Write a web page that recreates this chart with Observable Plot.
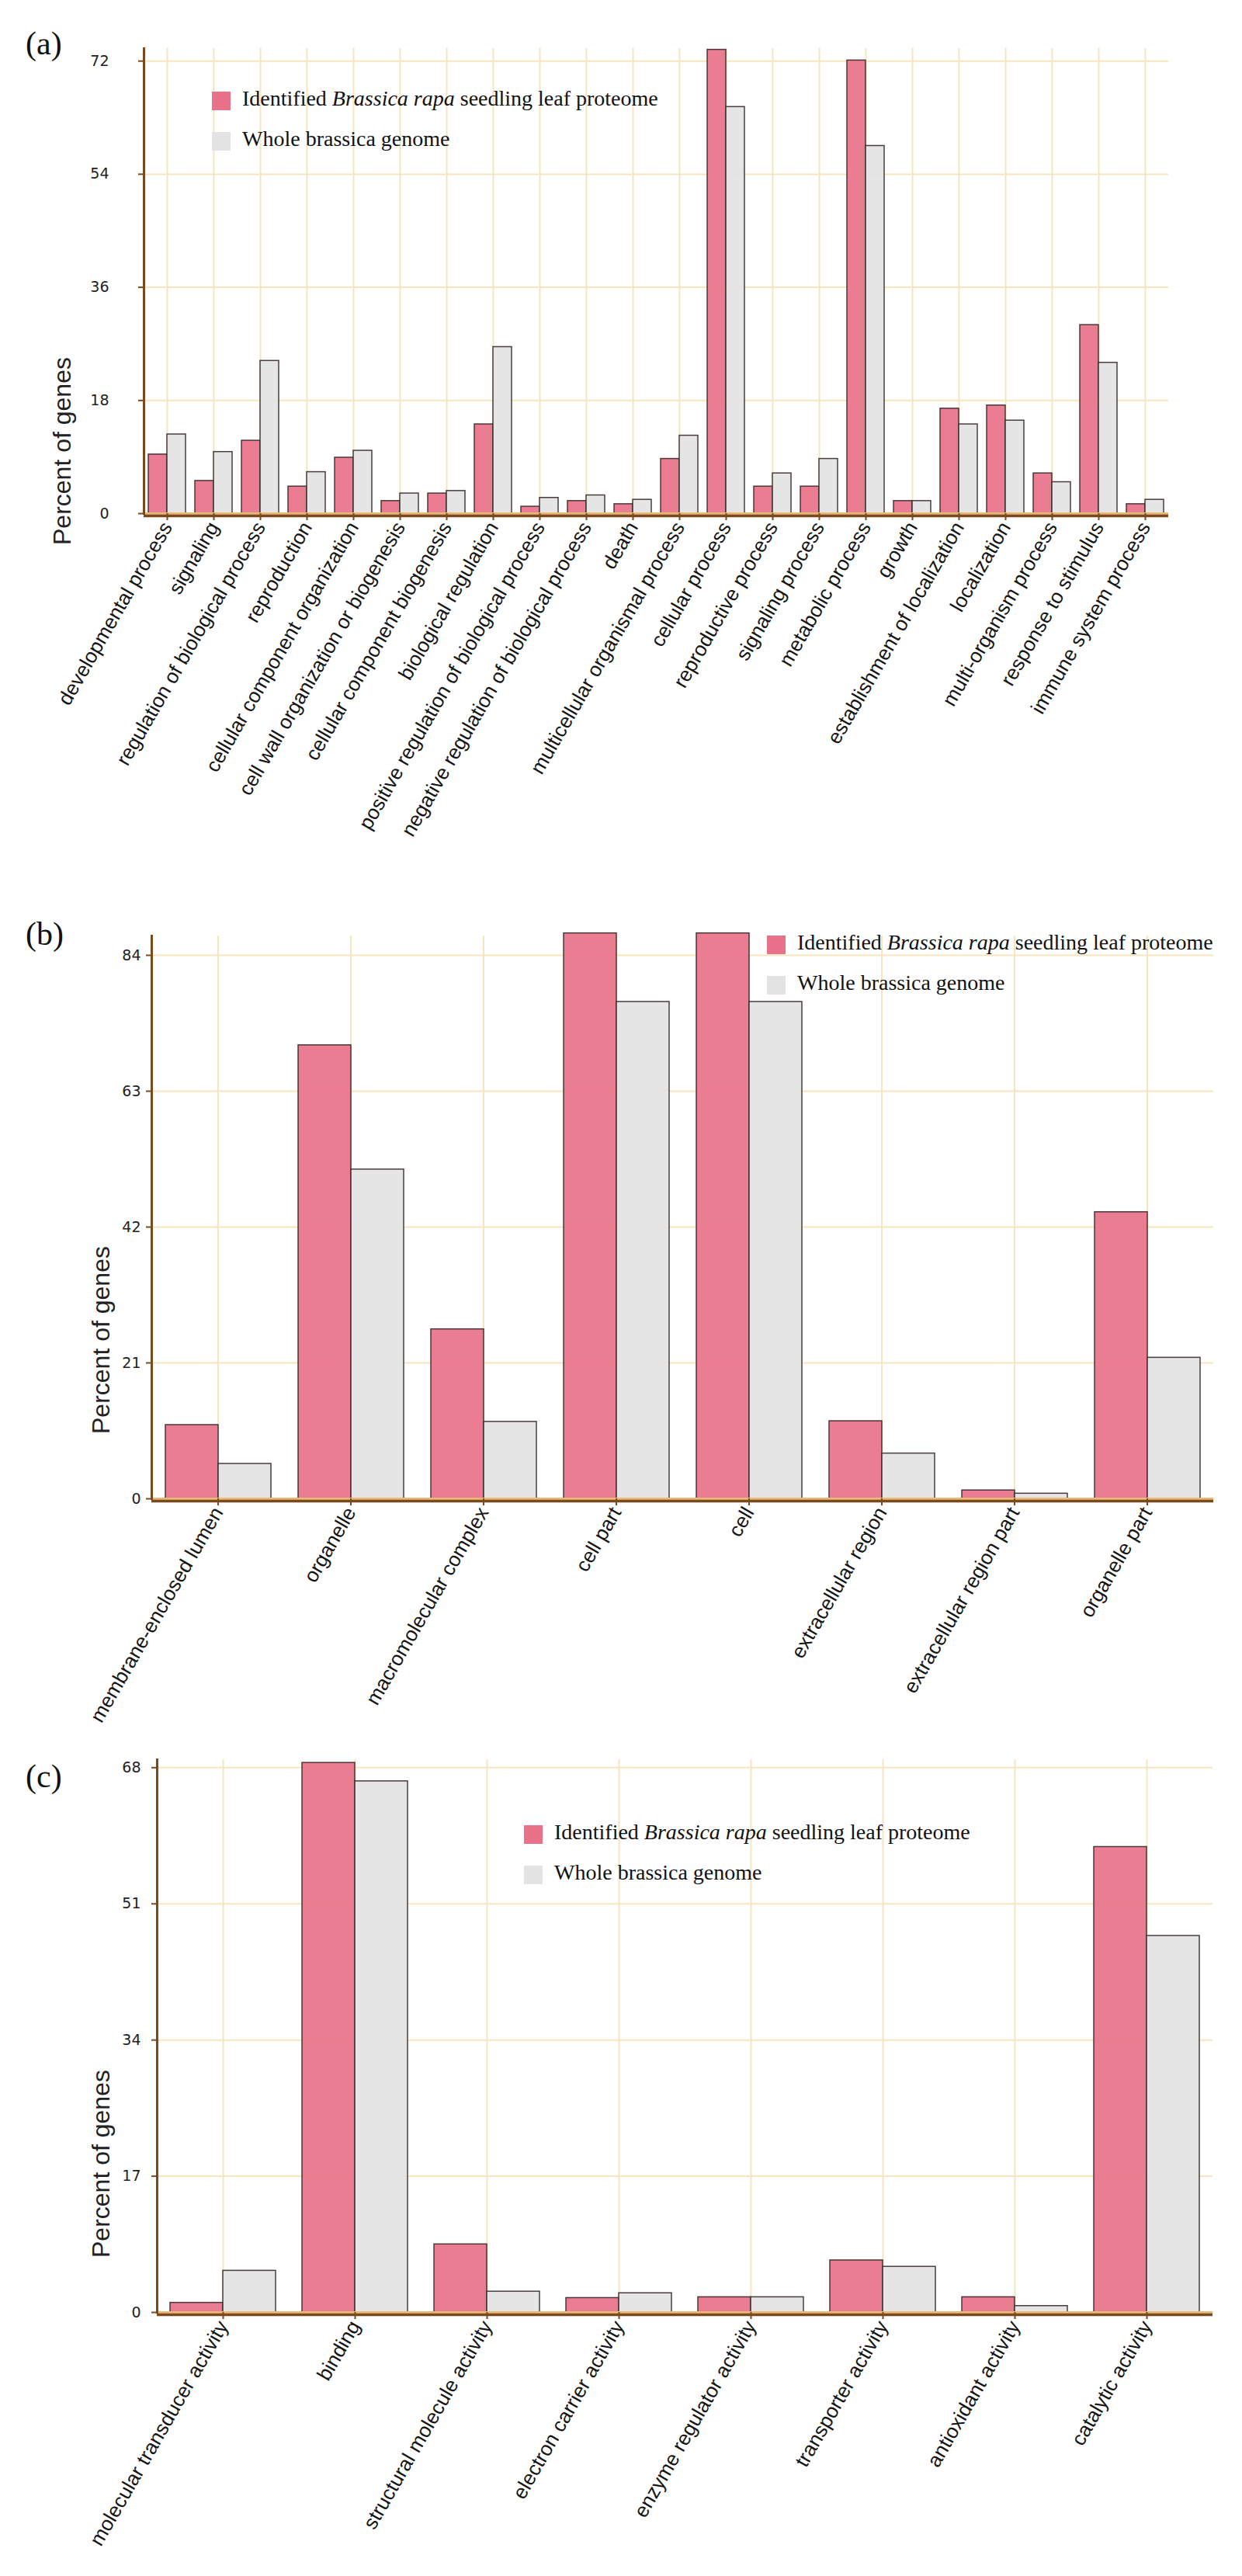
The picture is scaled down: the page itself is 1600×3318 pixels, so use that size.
<!DOCTYPE html>
<html>
<head>
<meta charset="utf-8">
<script src="https://cdn.jsdelivr.net/npm/d3@7"></script>
<script src="https://cdn.jsdelivr.net/npm/@observablehq/plot@0.6"></script>
<style>
  html, body { margin: 0; padding: 0; background: #fff; }
  #page { position: relative; width: 1600px; height: 3318px; overflow: hidden; background: #fff; }
  .panel-letter { position: absolute; left: 33px; font: 42px "Liberation Serif", serif; line-height: 1; color: #111; }
  .ylabel { position: absolute; font: 32px "Liberation Sans", Arial, sans-serif; line-height: 1; color: #222;
            white-space: nowrap; transform: translate(-50%, -50%) rotate(-90deg); }
  .legend { position: absolute; font: 28px "Liberation Serif", serif; color: #111; }
  .legend .row { display: flex; align-items: center; height: 24px; margin-bottom: 28px; white-space: nowrap; }
  .legend .sw { width: 24px; height: 24px; margin-right: 15px; flex: none; }
  .legend .tx { position: relative; top: -3px; }
</style>
</head>
<body>
<div id="page"></div>
<script>
// Gene Ontology categories, (a) biological process
const bpCategories = [
  "developmental process", "signaling", "regulation of biological process", "reproduction",
  "cellular component organization", "cell wall organization or biogenesis",
  "cellular component biogenesis", "biological regulation",
  "positive regulation of biological process", "negative regulation of biological process",
  "death", "multicellular organismal process", "cellular process", "reproductive process",
  "signaling process", "metabolic process", "growth", "establishment of localization",
  "localization", "multi-organism process", "response to stimulus", "immune system process"
];
const bpProteome = [9.4, 5.2, 11.6, 4.3, 8.9, 2.0, 3.2, 14.2, 1.1, 2.0, 1.5, 8.7, 73.8, 4.3, 4.3, 72.1, 2.0, 16.7, 17.2, 6.4, 30.0, 1.5];
const bpGenome   = [12.6, 9.8, 24.3, 6.6, 10.0, 3.2, 3.6, 26.5, 2.5, 2.9, 2.2, 12.4, 64.7, 6.4, 8.7, 58.5, 2.0, 14.2, 14.8, 5.0, 24.0, 2.2];
const bpTicks = [0, 18, 36, 54, 72];

// (b) cellular component
const ccCategories = [
  "membrane-enclosed lumen", "organelle", "macromolecular complex", "cell part",
  "cell", "extracellular region", "extracellular region part", "organelle part"
];
const ccProteome = [11.4, 70.1, 26.2, 87.4, 87.4, 12.0, 1.3, 44.3];
const ccGenome   = [5.4, 50.9, 11.9, 76.8, 76.8, 7.0, 0.8, 21.8];
const ccTicks = [0, 21, 42, 63, 84];

// (c) molecular function
const mfCategories = [
  "molecular transducer activity", "binding", "structural molecule activity",
  "electron carrier activity", "enzyme regulator activity", "transporter activity",
  "antioxidant activity", "catalytic activity"
];
const mfProteome = [1.2, 68.6, 8.5, 1.8, 1.9, 6.5, 1.9, 58.1];
const mfGenome   = [5.2, 66.3, 2.6, 2.4, 1.9, 5.7, 0.8, 47.0];
const mfTicks = [0, 17, 34, 51, 68];

const seriesNames = ["Identified Brassica rapa seedling leaf proteome", "Whole brassica genome"];
const seriesColors = ["#e9728a", "#e3e3e3"];

const BROWN = "#7a4a1f";
const GRID = "#f6e6bd";
const TAN = "#e9b978";

const page = document.getElementById("page");

function panel(cfg) {
  const rows = cfg.categories.flatMap((c, i) => [
    {category: c, series: seriesNames[0], value: cfg.proteome[i]},
    {category: c, series: seriesNames[1], value: cfg.genome[i]}
  ]);
  const svg = Plot.plot({
    width: 1600,
    height: cfg.height,
    marginLeft: cfg.marginLeft,
    marginRight: cfg.marginRight,
    marginTop: cfg.marginTop,
    marginBottom: cfg.marginBottom,
    style: {background: "transparent", overflow: "visible"},
    fx: {domain: cfg.categories, padding: 0, label: null},
    x: {domain: seriesNames, paddingInner: 0, paddingOuter: 0.24, axis: null},
    y: {domain: [0, cfg.yMax], label: null},
    color: {domain: seriesNames, range: seriesColors},
    marks: [
      Plot.gridY(cfg.ticks, {stroke: GRID, strokeOpacity: 1, strokeWidth: 2}),
      Plot.gridFx({stroke: GRID, strokeOpacity: 1, strokeWidth: 2}),
      Plot.barY(rows, {
        fx: "category", x: "series", y: "value", fill: "series",
        fillOpacity: 0.92, stroke: "#352a2a", strokeOpacity: 0.9, strokeWidth: 1.5
      }),
      Plot.ruleY([0], {stroke: TAN, strokeWidth: 3}),
      Plot.ruleY([0], {stroke: BROWN, strokeWidth: 3.5, dy: 3}),
      Plot.frame({anchor: "left", facetAnchor: "left", stroke: BROWN, strokeWidth: 3}),
      Plot.axisY(cfg.ticks, {
        anchor: "left", tickSize: 7, tickPadding: cfg.tickPadding, stroke: BROWN, strokeWidth: 2,
        fill: "#222", fontSize: 19, fontFamily: "DejaVu Sans", label: null
      }),
      Plot.axisFx({
        anchor: "bottom", tickRotate: -60, tickSize: 9, tickPadding: 4, stroke: BROWN, strokeWidth: 2,
        fill: "#151515", fontSize: 26, fontFamily: "Liberation Sans", label: null
      })
    ]
  });
  svg.style.position = "absolute";
  svg.style.left = "0px";
  svg.style.top = cfg.top + "px";
  page.appendChild(svg);

  const letter = document.createElement("div");
  letter.className = "panel-letter";
  letter.style.top = cfg.letterTop + "px";
  letter.textContent = cfg.letter;
  page.appendChild(letter);

  const yl = document.createElement("div");
  yl.className = "ylabel";
  yl.style.left = cfg.ylabelX + "px";
  yl.style.top = cfg.ylabelY + "px";
  yl.textContent = "Percent of genes";
  page.appendChild(yl);

  const lg = document.createElement("div");
  lg.className = "legend";
  lg.style.left = cfg.legendX + "px";
  lg.style.top = cfg.legendY + "px";
  lg.innerHTML =
    `<div class="row"><div class="sw" style="background:${seriesColors[0]}"></div>` +
    `<span class="tx">Identified <i>Brassica rapa</i> seedling leaf proteome</span></div>` +
    `<div class="row"><div class="sw" style="background:${seriesColors[1]}"></div>` +
    `<span class="tx">Whole brassica genome</span></div>`;
  page.appendChild(lg);
}

panel({
  letter: "(a)", letterTop: 35,
  categories: bpCategories, proteome: bpProteome, genome: bpGenome, ticks: bpTicks,
  top: 0, height: 1100, yMax: 74,
  marginTop: 62, marginBottom: 439, marginLeft: 177, marginRight: 88, tickPadding: 38,
  ylabelX: 80, ylabelY: 581, legendX: 273, legendY: 118
});

panel({
  letter: "(b)", letterTop: 1182,
  categories: ccCategories, proteome: ccProteome, genome: ccGenome, ticks: ccTicks,
  top: 1150, height: 1080, yMax: 87,
  marginTop: 55, marginBottom: 300, marginLeft: 195, marginRight: 37, tickPadding: 7,
  ylabelX: 130, ylabelY: 1726, legendX: 988, legendY: 1205
});

panel({
  letter: "(c)", letterTop: 2267,
  categories: mfCategories, proteome: mfProteome, genome: mfGenome, ticks: mfTicks,
  top: 2230, height: 1088, yMax: 69,
  marginTop: 36, marginBottom: 340, marginLeft: 202, marginRight: 38, tickPadding: 14,
  ylabelX: 130, ylabelY: 2787, legendX: 675, legendY: 2351
});
</script>
</body>
</html>
